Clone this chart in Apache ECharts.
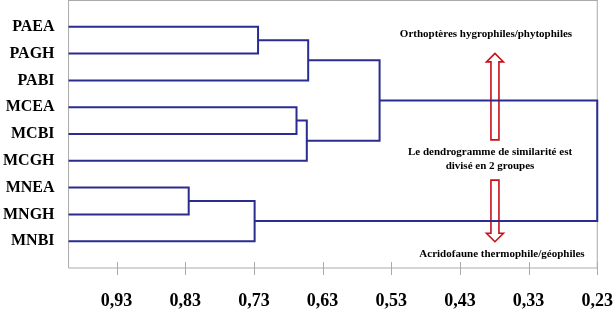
<!DOCTYPE html>
<html>
<head>
<meta charset="utf-8">
<script src="https://cdn.jsdelivr.net/npm/echarts@6/dist/echarts.min.js"></script>
<style>
html,body{margin:0;padding:0;background:#fff;}
#chart{width:616px;height:313px;}
</style>
</head>
<body>
<div id="chart"></div>
<script>
// ---- data ----
const leafNames = ['PAEA', 'PAGH', 'PABI', 'MCEA', 'MCBI', 'MCGH', 'MNEA', 'MNGH', 'MNBI'];
// merges: node ids 0..8 are leaves, merge k creates node 9+k
const mergeLeft = [0, 9, 3, 11, 10, 6, 14, 13];
const mergeRight = [1, 2, 4, 5, 12, 7, 8, 15];
const mergeSimilarity = [0.724, 0.651, 0.668, 0.653, 0.547, 0.825, 0.729, 0.23];
const tickValues = [0.93, 0.83, 0.73, 0.63, 0.53, 0.43, 0.33, 0.23];
const leafSimilarity = 1.0;
const annotationLines = ['Orthoptères hygrophiles/phytophiles', 'Le dendrogramme de similarité est', 'divisé en 2 groupes', 'Acridofaune thermophile/géophiles'];
// arrows: [similarity, from position, to position]
const arrows = [[0.379, 5.22, 1.99], [0.379, 6.72, 9.02]];

// ---- build dendrogram segments ----
const nodePos = [], nodeSim = [];
leafNames.forEach((n, i) => { nodePos[i] = i + 1; nodeSim[i] = leafSimilarity; });
const segs = [];
mergeSimilarity.forEach((s, k) => {
  const a = mergeLeft[k], b = mergeRight[k], id = leafNames.length + k;
  nodePos[id] = (nodePos[a] + nodePos[b]) / 2;
  nodeSim[id] = s;
  segs.push({ coords: [[nodeSim[a], nodePos[a]], [s, nodePos[a]], [s, nodePos[b]], [nodeSim[b], nodePos[b]]] });
});

const serif = '"Liberation Serif", "Times New Roman", serif';
const fmt = v => v.toFixed(2).replace('.', ',');
const yMax = 10;

const chart = echarts.init(document.getElementById('chart'), null, { renderer: 'canvas' });
chart.setOption({
  animation: false,
  grid: { left: 68, right: 16, top: 0, bottom: 45, show: true, borderColor: '#aaaaaa', borderWidth: 1 },
  xAxis: {
    type: 'value', min: 0.23, max: leafSimilarity, inverse: true, splitLine: { show: false },
    axisLine: { show: true, lineStyle: { color: '#aaaaaa', width: 1 } },
    axisTick: { show: false },
    axisLabel: { show: true, customValues: tickValues, formatter: fmt, margin: 24,
      fontFamily: serif, fontWeight: 'bold', fontSize: 18, color: '#000' }
  },
  yAxis: {
    type: 'value', min: 0, max: yMax, inverse: true,
    splitLine: { show: false },
    axisLine: { show: false }, axisTick: { show: false },
    axisLabel: {
      customValues: leafNames.map((n, i) => i + 1),
      formatter: v => leafNames[Math.round(v) - 1] || '',
      margin: 14, padding: [4, 0, 0, 0],
      fontFamily: serif, fontWeight: 'bold', fontSize: 16, color: '#000'
    }
  },
  series: [
    {
      // axis tick marks crossing the axis line
      type: 'custom', z: 1, clip: false, silent: true,
      data: tickValues.map(v => [v, yMax]),
      encode: { x: 0, y: 1 },
      renderItem: (params, api) => {
        const p = api.coord([api.value(0), api.value(1)]);
        const x = Math.round(p[0]) + 0.5;
        return { type: 'line', shape: { x1: x, y1: p[1] - 6, x2: x, y2: p[1] + 7 }, style: { stroke: '#aaaaaa', lineWidth: 1 } };
      }
    },
    {
      type: 'custom', z: 2, clip: false, silent: true,
      data: arrows,
      encode: { x: 0, y: [1, 2] },
      renderItem: (params, api) => {
        const p0 = api.coord([api.value(0), api.value(1)]);
        const p1 = api.coord([api.value(0), api.value(2)]);
        const cx = p0[0], dir = p1[1] > p0[1] ? 1 : -1;
        const sw = 4, hw = 8.5, hl = 8.5;
        const hb = p1[1] - dir * hl;
        return {
          type: 'polygon',
          shape: { points: [[cx - sw, p0[1]], [cx - sw, hb], [cx - hw, hb], [cx, p1[1]], [cx + hw, hb], [cx + sw, hb], [cx + sw, p0[1]]] },
          style: { fill: 'none', stroke: '#c8101a', lineWidth: 1.6 }
        };
      }
    },
    {
      type: 'lines', coordinateSystem: 'cartesian2d', polyline: true, z: 3,
      data: segs,
      lineStyle: { color: '#2b2d8e', width: 2, opacity: 1 },
      silent: true
    }
  ],
  graphic: [
    { type: 'text', x: 486, y: 34, style: { text: annotationLines[0], textAlign: 'center', textVerticalAlign: 'middle', font: 'bold 11px ' + serif, fill: '#000' } },
    { type: 'text', x: 490, y: 152, style: { text: annotationLines[1], textAlign: 'center', textVerticalAlign: 'middle', font: 'bold 11px ' + serif, fill: '#000' } },
    { type: 'text', x: 490, y: 166, style: { text: annotationLines[2], textAlign: 'center', textVerticalAlign: 'middle', font: 'bold 11px ' + serif, fill: '#000' } },
    { type: 'text', x: 502, y: 254, style: { text: annotationLines[3], textAlign: 'center', textVerticalAlign: 'middle', font: 'bold 11px ' + serif, fill: '#000' } }
  ]
});
</script>
</body>
</html>
